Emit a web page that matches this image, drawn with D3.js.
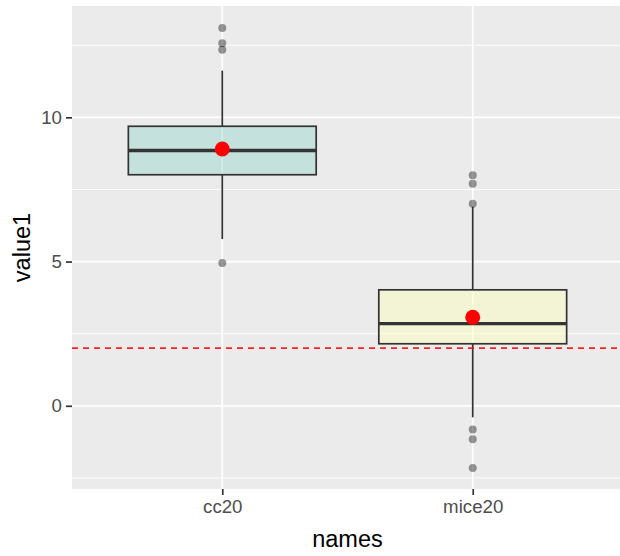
<!DOCTYPE html>
<html>
<head>
<meta charset="utf-8">
<script src="https://cdn.jsdelivr.net/npm/d3@7"></script>
<style>
  html, body { margin: 0; padding: 0; background: #fff; }
  svg { display: block; font-family: "Liberation Sans", Arial, sans-serif; }
</style>
</head>
<body>
<div id="chart"></div>
<script>
// ggplot-style boxplot: two groups, mean dots in red, a dashed reference at 2.

const categories = ["cc20", "mice20"];
const q1 = [8.01, 2.15];
const medians = [8.85, 2.85];
const q3 = [9.69, 4.02];
const whiskerLow = [5.78, -0.40];
const whiskerHigh = [11.62, 6.90];
const means = [8.90, 3.07];
const outliers = [
  [13.10, 12.57, 12.34, 4.95],
  [7.99, 7.70, 7.00, -0.82, -1.16, -2.16]
];
const fills = ["#8DD3C7", "#FFFFB3"];
const majorTicks = [0, 5, 10];
const minorTicks = [-2.5, 2.5, 7.5, 12.5];
const refValue = 2;

const width = 620, height = 556;
const m = { top: 6, right: -3, bottom: 67, left: 72 };
const iw = width - m.left - m.right;
const ih = height - m.top - m.bottom;

const svg = d3.select("#chart").append("svg")
  .attr("width", width).attr("height", height).attr("viewBox", `0 0 ${width} ${height}`);
const g = svg.append("g").attr("transform", `translate(${m.left},${m.top})`);

const x = d3.scalePoint().domain(categories).range([0, iw]).padding(0.6);
const y = d3.scaleLinear().domain([-2.885, 13.86]).range([ih, 0]);
const boxW = x.step() * 0.75;

// panel + grid
g.append("rect").attr("width", iw).attr("height", ih).attr("fill", "#EBEBEB");
g.append("g").selectAll("line").data(minorTicks).join("line")
  .attr("x1", 0).attr("x2", iw).attr("y1", (d) => y(d)).attr("y2", (d) => y(d))
  .attr("stroke", "#fff").attr("stroke-width", 0.9);
g.append("g").selectAll("line").data(majorTicks).join("line")
  .attr("x1", 0).attr("x2", iw).attr("y1", (d) => y(d)).attr("y2", (d) => y(d))
  .attr("stroke", "#fff").attr("stroke-width", 1.7);
g.append("g").selectAll("line").data(categories).join("line")
  .attr("x1", (d) => x(d)).attr("x2", (d) => x(d)).attr("y1", 0).attr("y2", ih)
  .attr("stroke", "#fff").attr("stroke-width", 1.7);

// boxes
const idx = categories.map((c, i) => i);
const box = g.append("g").selectAll("g").data(idx).join("g");
box.append("line")
  .attr("x1", (i) => x(categories[i])).attr("x2", (i) => x(categories[i]))
  .attr("y1", (i) => y(q3[i])).attr("y2", (i) => y(whiskerHigh[i]))
  .attr("stroke", "#333").attr("stroke-width", 1.7);
box.append("line")
  .attr("x1", (i) => x(categories[i])).attr("x2", (i) => x(categories[i]))
  .attr("y1", (i) => y(q1[i])).attr("y2", (i) => y(whiskerLow[i]))
  .attr("stroke", "#333").attr("stroke-width", 1.7);
box.append("rect")
  .attr("x", (i) => x(categories[i]) - boxW / 2).attr("width", boxW)
  .attr("y", (i) => y(q3[i])).attr("height", (i) => y(q1[i]) - y(q3[i]))
  .attr("fill", (i) => fills[i]).attr("fill-opacity", 0.4)
  .attr("stroke", "#333").attr("stroke-width", 1.7);
box.append("line")
  .attr("x1", (i) => x(categories[i]) - boxW / 2).attr("x2", (i) => x(categories[i]) + boxW / 2)
  .attr("y1", (i) => y(medians[i])).attr("y2", (i) => y(medians[i]))
  .attr("stroke", "#333").attr("stroke-width", 3.4);

// outliers
const outPts = outliers.flatMap((vals, i) => vals.map((v) => ({ c: categories[i], v })));
g.append("g").selectAll("circle").data(outPts).join("circle")
  .attr("cx", (d) => x(d.c)).attr("cy", (d) => y(d.v)).attr("r", 4)
  .attr("fill", "#000").attr("fill-opacity", 0.4);

// reference line
g.append("line").attr("x1", 0).attr("x2", iw).attr("y1", y(refValue)).attr("y2", y(refValue))
  .attr("stroke", "#FF0000").attr("stroke-opacity", 0.85).attr("stroke-width", 1.6)
  .attr("stroke-dasharray", "6,5");

// means
g.append("g").selectAll("circle").data(idx).join("circle")
  .attr("cx", (i) => x(categories[i])).attr("cy", (i) => y(means[i])).attr("r", 7.5)
  .attr("fill", "#FF0000");

// axes
const yAxis = g.append("g").call(d3.axisLeft(y).tickValues(majorTicks).tickSize(6).tickPadding(4));
const xAxis = g.append("g").attr("transform", `translate(0,${ih})`)
  .call(d3.axisBottom(x).tickSize(6).tickPadding(5));
[yAxis, xAxis].forEach((a) => {
  a.select(".domain").remove();
  a.selectAll(".tick line").attr("stroke", "#333").attr("stroke-width", 1.7);
  a.selectAll(".tick text").attr("fill", "#4D4D4D").attr("font-size", 18.7)
    .attr("font-family", "Liberation Sans, Arial, sans-serif");
});
xAxis.selectAll(".tick text").attr("dy", "0.71em");

svg.append("text").attr("x", m.left + iw / 2).attr("y", 547)
  .attr("text-anchor", "middle").attr("font-size", 23.5).attr("fill", "#000").text("names");
svg.append("text").attr("transform", `translate(30,${m.top + ih / 2}) rotate(-90)`)
  .attr("text-anchor", "middle").attr("font-size", 23.5).attr("fill", "#000").text("value1");
</script>
</body>
</html>
